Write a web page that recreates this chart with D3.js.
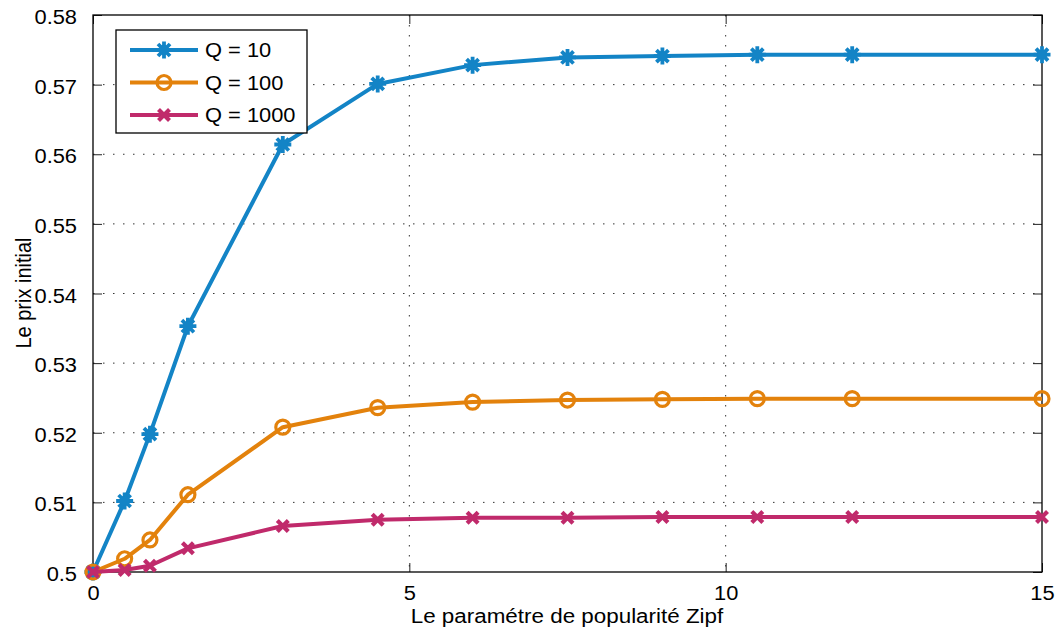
<!DOCTYPE html>
<html>
<head>
<meta charset="utf-8">
<script src="https://cdn.jsdelivr.net/npm/d3@7"></script>
<style>
  html, body { margin: 0; padding: 0; background: #fff; }
  svg text { font-family: "Liberation Sans", Arial, Helvetica, sans-serif; fill: #000; }
</style>
</head>
<body>
<svg id="chart" width="1059" height="635"></svg>
<script>
// Zipf popularity parameter (x) and initial price for each quantity Q
const zipf = [0, 0.5, 0.9, 1.5, 3, 4.5, 6, 7.5, 9, 10.5, 12, 15];
const priceQ10 = [0.5, 0.5102, 0.5198, 0.5353, 0.5614, 0.5701, 0.5728, 0.5739, 0.5741, 0.5743, 0.5743, 0.5743];
const priceQ100 = [0.5, 0.5019, 0.5046, 0.5111, 0.5208, 0.5236, 0.5244, 0.5247, 0.5248, 0.5249, 0.5249, 0.5249];
const priceQ1000 = [0.5, 0.5003, 0.5009, 0.5034, 0.5066, 0.5075, 0.5078, 0.5078, 0.5079, 0.5079, 0.5079, 0.5079];
const seriesNames = ["Q = 10", "Q = 100", "Q = 1000"];
const xTicks = [0, 5, 10, 15];
const yTicks = [0.5, 0.51, 0.52, 0.53, 0.54, 0.55, 0.56, 0.57, 0.58];

const series = [
  { name: seriesNames[0], values: priceQ10, color: "#1384c6", marker: "star" },
  { name: seriesNames[1], values: priceQ100, color: "#e3820c", marker: "circle" },
  { name: seriesNames[2], values: priceQ1000, color: "#c02a6b", marker: "cross" }
];

const FONT = "19.5px";
const WIDEN = 1.12; // horizontal stretch of the lettering

const svg = d3.select("#chart");
const m = { left: 93, right: 1042, top: 15, bottom: 572 };

const x = d3.scaleLinear().domain([0, 15]).range([m.left, m.right]);
const y = d3.scaleLinear().domain([0.5, 0.58]).range([m.bottom, m.top]);

// widen horizontally-set text while keeping its anchor
function widen(sel) {
  sel.each(function () {
    const len = this.getComputedTextLength();
    if (len > 0) {
      d3.select(this).attr("textLength", len * WIDEN).attr("lengthAdjust", "spacingAndGlyphs");
    }
  });
}

// dotted grid
const grid = svg.append("g");
grid.selectAll("line.gx").data(xTicks.slice(1, -1)).join("line")
  .attr("x1", d => x(d)).attr("x2", d => x(d))
  .attr("y1", m.top).attr("y2", m.bottom)
  .attr("stroke", "#333").attr("stroke-width", 1).attr("stroke-dasharray", "1.5,8.5");
grid.selectAll("line.gy").data(yTicks.slice(1, -1)).join("line")
  .attr("y1", d => y(d)).attr("y2", d => y(d))
  .attr("x1", m.left).attr("x2", m.right)
  .attr("stroke", "#333").attr("stroke-width", 1).attr("stroke-dasharray", "1.5,8.5");

// axes with inward ticks
const fmtY = d => (d === 0.5 ? "0.5" : d3.format(".2f")(d));
const axB = svg.append("g").attr("transform", `translate(0,${m.bottom})`)
  .call(d3.axisBottom(x).tickValues(xTicks).tickSizeInner(-9).tickSizeOuter(0).tickPadding(14));
const axL = svg.append("g").attr("transform", `translate(${m.left},0)`)
  .call(d3.axisLeft(y).tickValues(yTicks).tickFormat(fmtY).tickSizeInner(-9).tickSizeOuter(0).tickPadding(16));
const axT = svg.append("g").attr("transform", `translate(0,${m.top})`)
  .call(d3.axisTop(x).tickValues(xTicks).tickSizeInner(-9).tickSizeOuter(0).tickFormat(""));
const axR = svg.append("g").attr("transform", `translate(${m.right},0)`)
  .call(d3.axisRight(y).tickValues(yTicks).tickSizeInner(-9).tickSizeOuter(0).tickFormat(""));
[axB, axL, axT, axR].forEach(a => {
  a.select(".domain").remove();
  a.selectAll(".tick line").attr("stroke", "#222").attr("stroke-width", 1);
  a.selectAll(".tick text").style("font-size", FONT).attr("fill", "#000");
});
axB.selectAll(".tick text").attr("dy", "0.71em");
axL.selectAll(".tick text").attr("dy", "0.44em");
widen(axB.selectAll(".tick text"));
widen(axL.selectAll(".tick text"));

// plot frame
svg.append("rect").attr("x", m.left).attr("y", m.top)
  .attr("width", m.right - m.left).attr("height", m.bottom - m.top)
  .attr("fill", "none").attr("stroke", "#000").attr("stroke-width", 1.3);

// axis titles
svg.append("text").attr("x", 567).attr("y", 623)
  .attr("text-anchor", "middle").style("font-size", "20px")
  .text("Le paramétre de popularité Zipf")
  .call(widen);
svg.append("text").attr("transform", `translate(31,293) rotate(-90) scale(1,1.1)`)
  .attr("text-anchor", "middle").style("font-size", "20px")
  .text("Le prix initial");

// marker shapes
function drawMarker(g, type, cx, cy, color) {
  if (type === "star") {
    const r = 8.5;
    const p = [];
    for (let k = 0; k < 4; k++) {
      const a = k * Math.PI / 4;
      p.push(`M${cx - r * Math.cos(a)},${cy - r * Math.sin(a)}L${cx + r * Math.cos(a)},${cy + r * Math.sin(a)}`);
    }
    g.append("path").attr("d", p.join("")).attr("stroke", color).attr("stroke-width", 3.8)
      .attr("fill", "none");
    g.append("circle").attr("cx", cx).attr("cy", cy).attr("r", 5).attr("fill", color);
  } else if (type === "circle") {
    g.append("circle").attr("cx", cx).attr("cy", cy).attr("r", 7)
      .attr("fill", "none").attr("stroke", color).attr("stroke-width", 3.2);
  } else {
    const r = 5.5;
    g.append("path")
      .attr("d", `M${cx - r},${cy - r}L${cx + r},${cy + r}M${cx - r},${cy + r}L${cx + r},${cy - r}`)
      .attr("stroke", color).attr("stroke-width", 4.2).attr("fill", "none");
  }
}

const line = d3.line().x(d => x(d[0])).y(d => y(d[1]));
series.forEach(s => {
  const pts = zipf.map((z, i) => [z, s.values[i]]);
  const g = svg.append("g");
  g.append("path").datum(pts).attr("d", line)
    .attr("fill", "none").attr("stroke", s.color).attr("stroke-width", 4)
    .attr("stroke-linejoin", "round");
  pts.forEach(p => drawMarker(g, s.marker, x(p[0]), y(p[1]), s.color));
});

// legend
const lg = svg.append("g");
lg.append("rect").attr("x", 116).attr("y", 30).attr("width", 191).attr("height", 103)
  .attr("fill", "#fff").attr("stroke", "#000").attr("stroke-width", 1.3);
series.forEach((s, i) => {
  const ly = 50 + i * 32.5;
  lg.append("line").attr("x1", 130).attr("x2", 198).attr("y1", ly).attr("y2", ly)
    .attr("stroke", s.color).attr("stroke-width", 4);
  drawMarker(lg, s.marker, 164, ly, s.color);
  lg.append("text").attr("x", 205).attr("y", ly).attr("dy", "0.36em")
    .style("font-size", FONT).text(s.name)
    .call(widen);
});
</script>
</body>
</html>
